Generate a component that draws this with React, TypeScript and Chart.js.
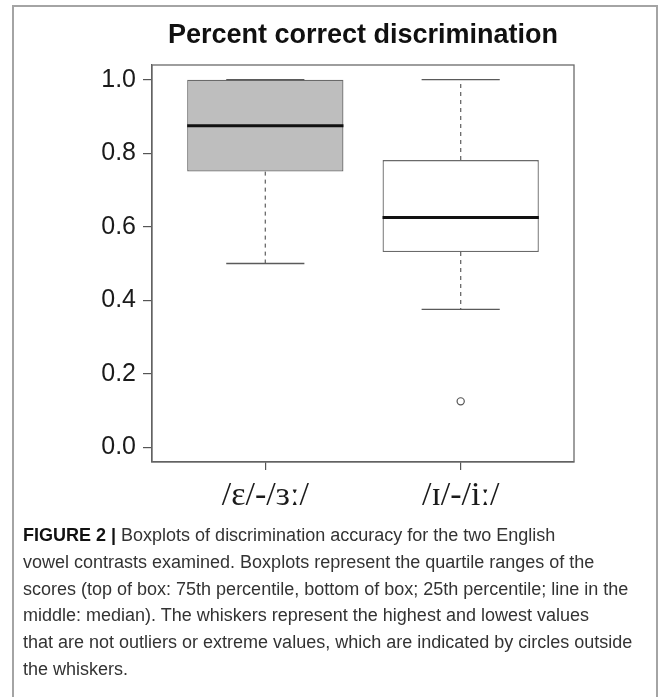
import React, { useEffect, useRef } from 'react';
import { Chart, registerables } from 'chart.js';

Chart.register(...registerables);

// ---- data ----
const TITLE = 'Percent correct discrimination';
const categories = ['/ɛ/-/ɜː/', '/ɪ/-/iː/'];
const positions = [1, 2];
const whiskerLow = [0.5, 0.375];
const q1 = [0.75, 0.53125];
const median = [0.875, 0.625];
const q3 = [1.0, 0.78125];
const whiskerHigh = [1.0, 1.0];
const outlierGroup = [2];
const outlierValue = [0.125];
const boxFill = ['#bebebe', '#ffffff'];
const yTicks = [0, 0.2, 0.4, 0.6, 0.8, 1.0];
const xRange = [0.42, 2.58];
const yRange = [-0.04, 1.04];

const captionLines = [
  'Boxplots of discrimination accuracy for the two English',
  'vowel contrasts examined. Boxplots represent the quartile ranges of the',
  'scores (top of box: 75th percentile, bottom of box; 25th percentile; line in the',
  'middle: median). The whiskers represent the highest and lowest values',
  'that are not outliers or extreme values, which are indicated by circles outside',
  'the whiskers.',
];

const LINE = '#6a6a6a';

const boxPlugin = {
  id: 'boxExtras',
  afterDatasetsDraw(chart: any) {
    const { ctx, chartArea, scales } = chart;
    const ys = scales.y;
    const meta = chart.getDatasetMeta(0);
    ctx.save();
    meta.data.forEach((bar: any, i: number) => {
      const { x, width } = bar.getProps(['x', 'width'], true);
      const capHalf = width / 4;
      const yq1 = ys.getPixelForValue(q1[i]);
      const yq3 = ys.getPixelForValue(q3[i]);
      const ylo = ys.getPixelForValue(whiskerLow[i]);
      const yhi = ys.getPixelForValue(whiskerHigh[i]);
      const ymed = ys.getPixelForValue(median[i]);
      // dashed whiskers
      ctx.strokeStyle = LINE;
      ctx.lineWidth = 1.3;
      ctx.setLineDash([4, 4]);
      ctx.beginPath();
      ctx.moveTo(x, yq1);
      ctx.lineTo(x, ylo);
      if (yhi < yq3 - 0.5) {
        ctx.moveTo(x, yq3);
        ctx.lineTo(x, yhi);
      }
      ctx.stroke();
      ctx.setLineDash([]);
      // caps
      ctx.strokeStyle = '#5a5a5a';
      ctx.beginPath();
      ctx.moveTo(x - capHalf, ylo);
      ctx.lineTo(x + capHalf, ylo);
      ctx.moveTo(x - capHalf, yhi);
      ctx.lineTo(x + capHalf, yhi);
      ctx.stroke();
      // median
      ctx.strokeStyle = '#111111';
      ctx.lineWidth = 3;
      ctx.beginPath();
      ctx.moveTo(x - width / 2, ymed);
      ctx.lineTo(x + width / 2, ymed);
      ctx.stroke();
    });
    // frame
    ctx.strokeStyle = LINE;
    ctx.lineWidth = 1.3;
    ctx.strokeRect(chartArea.left, chartArea.top, chartArea.right - chartArea.left, chartArea.bottom - chartArea.top);
    // title
    ctx.fillStyle = '#111111';
    ctx.font = 'bold 27px "Liberation Sans", Arial, sans-serif';
    ctx.textAlign = 'center';
    ctx.textBaseline = 'middle';
    ctx.fillText(TITLE, (chartArea.left + chartArea.right) / 2, 36);
    ctx.restore();
  },
};

export default function App() {
  const ref = useRef<HTMLCanvasElement | null>(null);
  useEffect(() => {
    if (!ref.current) return;
    const chart = new Chart(ref.current, {
      type: 'bar',
      data: {
        datasets: [
          {
            type: 'bar',
            data: positions.map((p, i) => ({ x: p, y: [q1[i], q3[i]] })) as any,
            backgroundColor: boxFill,
            borderColor: LINE,
            borderWidth: 1.3,
            borderSkipped: false,
            categoryPercentage: 1,
            barPercentage: 0.8,
            order: 2,
          } as any,
          {
            type: 'scatter',
            data: outlierGroup.map((g, i) => ({ x: g, y: outlierValue[i] })),
            pointStyle: 'circle',
            pointRadius: 3.6,
            borderColor: '#555555',
            borderWidth: 1.2,
            backgroundColor: 'rgba(0,0,0,0)',
            order: 1,
          } as any,
        ],
      },
      options: {
        animation: false,
        responsive: false,
        maintainAspectRatio: false,
        layout: { padding: { top: 65, right: 91, left: 0, bottom: 0 } },
        plugins: { legend: { display: false }, title: { display: false }, tooltip: { enabled: false } },
        scales: {
          x: {
            type: 'linear',
            min: xRange[0],
            max: xRange[1],
            offset: false,
            afterBuildTicks: (scale: any) => {
              scale.ticks = positions.map((v) => ({ value: v }));
            },
            afterFit: (scale: any) => {
              scale.height = 68;
            },
            grid: { display: true, offset: false, drawOnChartArea: false, drawTicks: true, tickLength: 8, color: '#555555', lineWidth: 1.2 },
            border: { display: true, color: '#555555', width: 1.2 },
            ticks: {
              autoSkip: false,
              maxRotation: 0,
              padding: 6,
              color: '#1a1a1a',
              font: { family: '"Liberation Serif", "DejaVu Serif", serif', size: 34 },
              callback: (v: any) => categories[positions.indexOf(Number(v))] ?? '',
            },
          },
          y: {
            type: 'linear',
            min: yRange[0],
            max: yRange[1],
            afterBuildTicks: (scale: any) => {
              scale.ticks = yTicks.map((v) => ({ value: v }));
            },
            afterFit: (scale: any) => {
              scale.width = 152;
            },
            grid: { display: true, drawOnChartArea: false, drawTicks: true, tickLength: 9, color: '#555555', lineWidth: 1.2 },
            border: { display: true, color: '#555555', width: 1.2 },
            ticks: {
              padding: 7,
              color: '#1a1a1a',
              font: { family: '"Liberation Sans", Arial, sans-serif', size: 25 },
              callback: (v: any) => Number(v).toFixed(1),
            },
          },
        },
      },
      plugins: [boxPlugin],
    });
    return () => chart.destroy();
  }, []);

  return (
    <div style={{ position: 'absolute', left: 0, top: 0, width: 665, height: 697, overflow: 'hidden', background: '#fff' }}>
      <div
        style={{
          position: 'absolute',
          left: 12,
          top: 5,
          width: 646,
          height: 760,
          border: '2px solid #a4a4a4',
          boxSizing: 'border-box',
        }}
      />
      <canvas ref={ref} width={665} height={530} style={{ position: 'absolute', left: 0, top: 0, width: 665, height: 530 }} />
      <div
        style={{
          position: 'absolute',
          left: 23,
          top: 522,
          width: 630,
          fontFamily: '"Liberation Sans", Arial, sans-serif',
          fontSize: 18,
          lineHeight: '26.8px',
          color: '#333333',
          whiteSpace: 'nowrap',
        }}
      >
        {captionLines.map((line, i) => (
          <div key={i}>
            {i === 0 ? <b style={{ color: '#111' }}>FIGURE 2 | </b> : null}
            {line}
          </div>
        ))}
      </div>
    </div>
  );
}
